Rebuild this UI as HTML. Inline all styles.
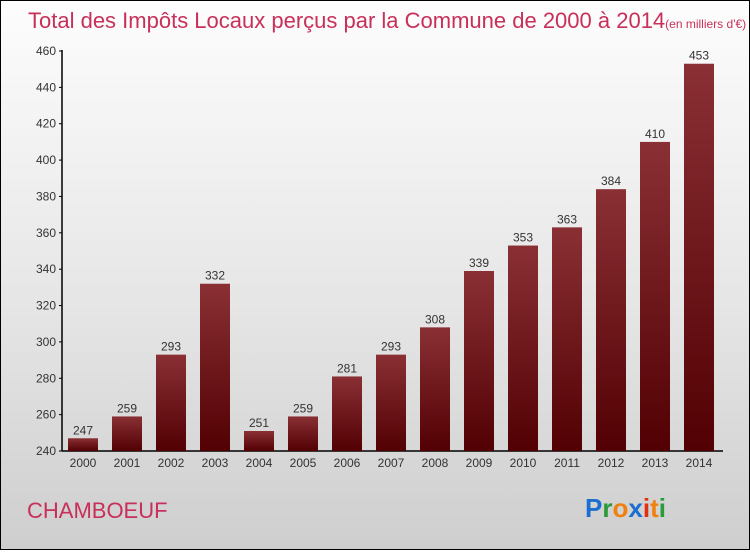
<!DOCTYPE html>
<html><head><meta charset="utf-8"><style>
body{margin:0;width:750px;height:550px;overflow:hidden;font-family:"Liberation Sans",sans-serif}
#frame{position:absolute;left:0;top:0;width:748px;height:548px;border:1px solid #000;background:linear-gradient(#fdfdfd,#e6e6e6 55%,#cecece)}
</style></head><body>
<div id="frame">
<svg width="748" height="548">
<defs><linearGradient id="bg" x1="0" y1="0" x2="0" y2="1"><stop offset="0" stop-color="#8a3035"/><stop offset="1" stop-color="#520003"/></linearGradient></defs>
<text x="27" y="27" font-size="22" fill="#c8305a">Total des Impôts Locaux perçus par la Commune de 2000 à 2014<tspan font-size="12">(en milliers d'€)</tspan></text>
<g id="axes"></g><g id="bars"></g>
<text x="26" y="517" font-size="22" fill="#c8305a">CHAMBOEUF</text>
<text x="584" y="516" font-size="26" font-weight="bold"><tspan fill="#1a6fd0">P</tspan><tspan fill="#2a9a3a">r</tspan><tspan fill="#f08010">o</tspan><tspan fill="#1a6fd0">x</tspan><tspan fill="#e03010">i</tspan><tspan fill="#f08010">t</tspan><tspan fill="#2a9a3a">i</tspan></text>
</svg></div>
<script>
const years=["2000","2001","2002","2003","2004","2005","2006","2007","2008","2009","2010","2011","2012","2013","2014"];
const values=[247,259,293,332,251,259,281,293,308,339,353,363,384,410,453];
const ticks=[240,260,280,300,320,340,360,380,400,420,440,460];
const NS="http://www.w3.org/2000/svg";
const y=v=>450-(v-240)*400/220;
const x=i=>82+i*44;
function mk(t,a,p){const e=document.createElementNS(NS,t);for(const k in a)e.setAttribute(k,a[k]);p.appendChild(e);return e;}
const ax=document.getElementById('axes'),bs=document.getElementById('bars');
const yl=mk('line',{x1:61,x2:61,y1:49,y2:450,stroke:'#000','stroke-width':1.5},ax);


const xl=mk('line',{x1:61,x2:722,y1:450,y2:450,stroke:'#000','stroke-width':1.5},ax);


ticks.forEach(t=>{
 mk('line',{x1:58,x2:61,y1:y(t),y2:y(t),stroke:'#000'},ax);
 const tx=mk('text',{x:55,y:y(t)+4,'font-size':12,fill:'#333','text-anchor':'end'},ax);tx.textContent=t;
 
 
});
years.forEach((yr,i)=>{
 const r=mk('rect',{x:x(i)-15,y:y(values[i]),width:30,height:450-y(values[i]),fill:'url(#bg)'},bs);
 
 
 const v=mk('text',{x:x(i),y:y(values[i])-4,'font-size':12,fill:'#333','text-anchor':'middle'},bs);v.textContent=values[i];
 
 
 const l=mk('text',{x:x(i),y:466,'font-size':12,fill:'#333','text-anchor':'middle'},bs);l.textContent=yr;
 
 
});
</script>
</body></html>
